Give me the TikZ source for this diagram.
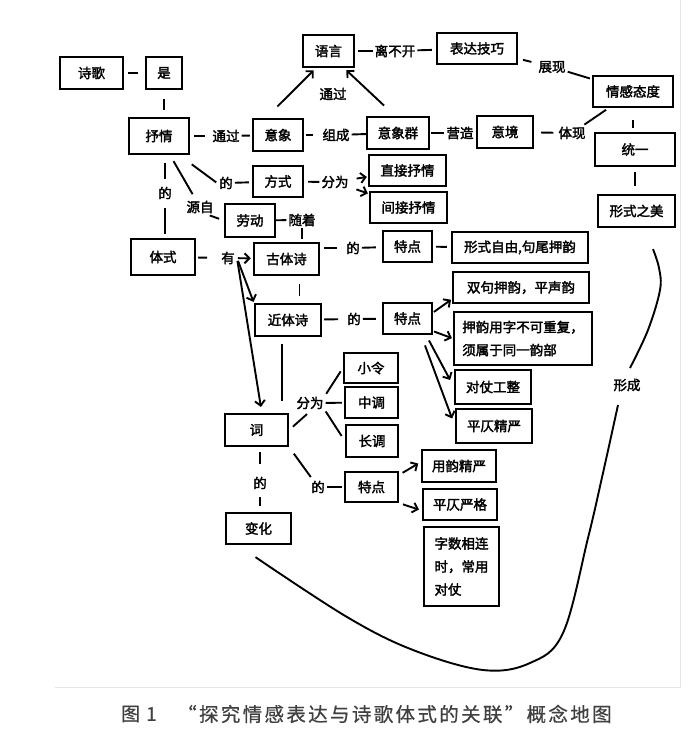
\documentclass[tikz,border=0pt]{standalone}
\usepackage{fontspec}
\newfontfamily\cjk{Noto Sans CJK SC}[FakeBold=2.2]
\newfontfamily\capfont{Noto Sans CJK SC}[LetterSpace=12, FakeBold=0.6]
\usetikzlibrary{arrows.meta}
\newcommand\mybox[6]{\node[box, minimum width={#4pt-#2pt}, minimum height={#5pt-#3pt}] (#1) at ({(#2+#4)/2},{(#3+#5)/2}) {#6};}
\tikzset{
  box/.style={draw, line width=2.3pt, inner sep=0pt, align=left, font=\cjk\fontsize{13.5}{23}\selectfont},
  lab/.style={inner sep=2pt, font=\cjk\fontsize{13.5}{16}\selectfont},
  conn/.style={line width=1.9pt},
  arr/.style={conn, -{Straight Barb[length=5pt, width=10pt]}},
  curve/.style={line width=1.9pt}
}
\begin{document}
\begin{tikzpicture}[x=1pt, y=-1pt]
\fill[white] (0,0) rectangle (700,745);
\useasboundingbox (0,0) rectangle (700,745);
\draw[black!10, line width=1pt] (55,687) -- (680,687) -- (680,0);
% boxes
\mybox{shige}{60}{57}{123}{89}{诗歌}
\mybox{shi}{146}{57}{182}{89}{是}
\mybox{yuyan}{303}{35}{354}{67}{语言}
\mybox{biaoda}{437}{33}{517}{64}{表达技巧}
\mybox{qinggan}{593}{76}{673}{107}{情感态度}
\mybox{shuqing}{129}{118}{189}{154}{抒情}
\mybox{yixiang}{253}{119}{303}{151}{意象}
\mybox{yxq}{367}{117}{429}{149}{意象群}
\mybox{yijing}{477}{116}{533}{148}{意境}
\mybox{tongyi}{595}{133}{675}{166}{统一}
\mybox{fangshi}{253}{166}{303}{197}{方式}
\mybox{zhijie}{369}{155}{446}{186}{直接抒情}
\mybox{jianjie}{370}{192}{447}{223}{间接抒情}
\mybox{xingshi}{598}{195}{675}{227}{形式之美}
\mybox{laodong}{225}{204}{275}{237}{劳动}
\mybox{tishi}{131}{239}{195}{275}{体式}
\mybox{guti}{254}{243}{319}{275}{古体诗}
\mybox{tdA}{383}{231}{432}{262}{特点}
\mybox{xszy}{452}{232}{588}{263}{形式自由,句尾押韵}
\mybox{sjya}{453}{272}{589}{303}{双句押韵，平声韵}
\mybox{jinti}{255}{304}{321}{336}{近体诗}
\mybox{tdB}{383}{303}{432}{334}{特点}
\mybox{yyyz}{454}{312}{592}{365}{押韵用字不可重复，\\须属于同一韵部}
\mybox{dzgz}{455}{370}{531}{404}{对仗工整}
\mybox{pzjy}{456}{409}{532}{443}{平仄精严}
\mybox{xiaoling}{344}{353}{398}{383}{小令}
\mybox{zhongdiao}{345}{387}{398}{418}{中调}
\mybox{ci}{225}{414}{288}{446}{词}
\mybox{changdiao}{346}{425}{398}{457}{长调}
\mybox{yyjy}{422}{450}{496}{482}{用韵精严}
\mybox{tdC}{345}{472}{398}{502}{特点}
\mybox{pzyg}{423}{489}{497}{520}{平仄严格}
\mybox{bianhua}{226}{513}{291}{544}{变化}
\mybox{zsxl}{424}{527}{499}{606}{字数相连\\时，常用\\对仗}
% labels
\node[lab] (tg1) at (226,136) {通过};
\node[lab] (zucheng) at (336,135) {组成};
\node[lab] (yingzao) at (460,133) {营造};
\node[lab] (tixian) at (572,133) {体现};
\node[lab] (lbk) at (395,51) {离不开};
\node[lab] (zhanxian) at (552,67) {展现};
\node[lab] (tg2) at (333,94) {通过};
\node[lab] (deA) at (226,183) {的};
\node[lab] (fwA) at (335,182) {分为};
\node[lab] (yuanzi) at (200,207) {源自};
\node[lab] (suizhe) at (302,220) {随着};
\node[lab] (deB) at (165,193) {的};
\node[lab] (you) at (228,258) {有};
\node[lab] (deC) at (353,248) {的};
\node[lab] (deD) at (354,319) {的};
\node[lab] (fwB) at (310,403) {分为};
\node[lab] (deE) at (260,483) {的};
\node[lab] (deF) at (318,487) {的};
\node[lab] (xingcheng) at (627,385) {形成};
% connectors
\draw[conn, shorten <=4pt, shorten >=7pt] (shige) -- (shi);
\draw[conn, shorten <=9pt, shorten >=7pt] (shi) -- (shi |- shuqing.north);
\draw[conn, shorten <=4pt, shorten >=5pt] (shuqing) -- (tg1);
\draw[conn, shorten >=2pt] (tg1) -- (yixiang);
\draw[conn, shorten <=2pt, shorten >=7pt] (yixiang) -- (zucheng);
\draw[conn] (zucheng) -- (yxq);
\draw[conn, shorten <=1pt] (yxq) -- (yingzao);
\draw[conn, shorten <=7pt, shorten >=3pt] (yijing) -- (tixian);
\draw[conn, shorten >=3pt] (tixian) -- (qinggan);
\draw[conn, shorten <=3pt] (yuyan) -- (lbk);
\draw[conn, shorten >=4pt] (lbk) -- (biaoda);
\draw[conn, shorten <=5pt, shorten >=5pt] (biaoda) -- (zhanxian);
\draw[conn, shorten >=2pt] (zhanxian) -- (qinggan);
\draw[conn, shorten <=12pt, shorten >=4pt] (qinggan.south) -- (qinggan.south |- tongyi.north);
\draw[conn, shorten <=5pt, shorten >=8pt] (tongyi.south) -- (tongyi.south |- xingshi.north);
\draw[arr, shorten <=16pt, shorten >=3pt] ([xshift=-12pt]yixiang.north) -- ([xshift=14pt]yuyan.south west);
\draw[arr, shorten <=15pt, shorten >=3pt] ([xshift=-3pt]yxq.north) -- ([xshift=-11pt]yuyan.south east);
\draw[conn, shorten <=2pt, shorten >=1pt] ([yshift=-8pt]shuqing.south east) -- (deA.west);
\draw[conn, shorten >=3pt] (deA) -- (fangshi);
\draw[conn, shorten <=4pt] (fangshi) -- (fwA);
\draw[arr, shorten <=6pt, shorten >=1pt] (fwA) -- (zhijie);
\draw[arr, shorten <=6pt, shorten >=1pt] (fwA) -- (jianjie);
\draw[conn, shorten <=7pt, shorten >=5pt] (shuqing) -- (yuanzi);
\draw[conn, shorten >=5pt] ([xshift=-6pt]yuanzi.south east) -- (laodong.west);
\draw[conn] (laodong) -- (suizhe);
\draw[conn, shorten >=3pt] (suizhe) -- (suizhe |- guti.north);
\draw[conn, shorten <=8pt, shorten >=6pt] (deB |- shuqing.south) -- (deB);
\draw[conn, shorten <=7pt, shorten >=4pt] (deB) -- (deB |- tishi.north);
\draw[conn, shorten <=2pt, shorten >=12pt] (tishi) -- (you);
\draw[arr, shorten <=1pt, shorten >=2pt] (you) -- (guti);
\draw[arr, shorten <=3pt, shorten >=1pt] (you.east) -- (jinti.north west);
\draw[arr, shorten <=3pt, shorten >=6pt] (you.east) -- ([xshift=38pt]ci.north west);
\draw[conn, shorten <=4pt, shorten >=7pt] (deC -| guti.east) -- (deC);
\draw[conn, shorten >=6pt] (deC) -- (tdA);
\draw[conn, shorten <=3pt, shorten >=4pt] (tdA) -- (xszy);
\draw[conn, shorten <=8pt, shorten >=7pt] ([xshift=13pt]guti.south) -- ([xshift=13pt]guti.south |- jinti.north);
\draw[conn, shorten <=2pt, shorten >=7pt] (jinti) -- (deD);
\draw[conn, shorten >=6pt] (deD) -- (tdB);
\draw[arr, shorten <=1pt, shorten >=1pt] ([yshift=6pt]tdB.east) -- ([yshift=5pt]sjya.south west);
\draw[arr, shorten <=1pt, shorten >=1pt] ([yshift=4pt]tdB.south east) -- (yyyz.west);
\draw[arr, shorten <=6pt, shorten >=8pt] ([xshift=-7pt]tdB.south east) -- (dzgz.west);
\draw[arr, shorten <=11pt, shorten >=8pt] ([xshift=-12pt]tdB.south east) -- (pzjy.west);
\draw[conn, shorten <=7pt, shorten >=12pt] ([xshift=28pt]jinti.south west) -- ([xshift=58pt]ci.north west);
\draw[conn, shorten <=5pt, shorten >=4pt] (ci.east) -- (fwB.south);
\draw[conn, shorten <=1pt, shorten >=4pt] (fwB.north east) -- (xiaoling.west);
\draw[conn, shorten >=2pt] (fwB) -- (zhongdiao);
\draw[conn, shorten >=6pt] (fwB.south east) -- (changdiao.west);
\draw[conn, shorten <=5pt, shorten >=11pt] (deE |- ci.south) -- (deE);
\draw[conn, shorten <=6pt, shorten >=6pt] (deE) -- (deE |- bianhua.north);
\draw[conn, shorten <=8pt, shorten >=2pt] (ci.south east) -- (deF);
\draw[conn, shorten >=2pt] (deF) -- (tdC);
\draw[arr, shorten <=4pt, shorten >=3pt] ([yshift=-4pt]tdC.north east) -- ([yshift=4pt]yyjy.west);
\draw[arr, shorten <=4pt, shorten >=3pt] (tdC.south east) -- ([yshift=-6pt]pzyg.west);
% big curve
\draw[curve] plot[smooth, tension=0.6] coordinates {([xshift=-3pt,yshift=-12pt]bianhua.south) (347,617) (413,650) (483,670) (530,663) (563,633) (588,538) (603,473) ([xshift=-9pt,yshift=-20pt]xingcheng.center)};
\draw[curve] plot[smooth, tension=0.6] coordinates {([xshift=3pt,yshift=17pt]xingcheng.center) (648,330) (660,290) (659,268) ([xshift=16.5pt,yshift=-21pt]xingshi.south)};
% caption
\node[anchor=west, inner sep=0pt, text=black!75, font=\capfont\fontsize{19}{22}\selectfont] (fig) at (121,714) {图\hspace{6pt}1};
\node[anchor=west, inner sep=0pt, text=black!75, font=\capfont\fontsize{19.5}{22}\selectfont] (cap) at (177,714) {“探究情感表达与诗歌体式的关联”概念地图};
\end{tikzpicture}
\end{document}
